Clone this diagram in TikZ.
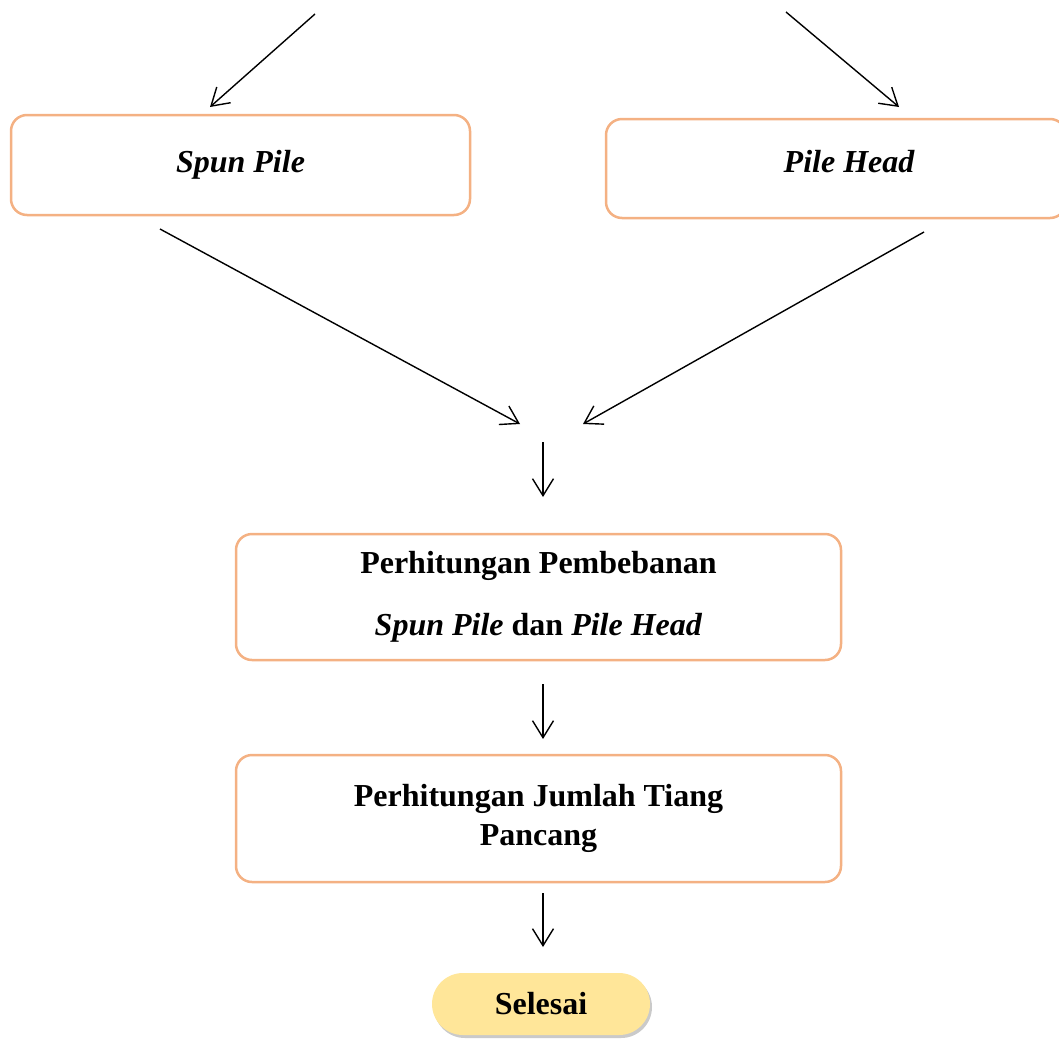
\documentclass[tikz,border=0pt]{standalone}
\usepackage{fontspec}
\setmainfont{Liberation Serif}
\usetikzlibrary{arrows.meta,shadows}
\definecolor{boxor}{HTML}{F4B183}
\definecolor{endfill}{HTML}{FFE699}
\begin{document}
\begin{tikzpicture}[x=1pt,y=-1pt,
  box/.style={draw=boxor,line width=2.5pt,rounded corners=16pt,fill=white,inner sep=0pt,align=center,font=\fontsize{32}{40}\selectfont\bfseries},
  arr/.style={line width=1.4pt,-{Straight Barb[length=17pt,width=21pt,line width=1.4pt]}}]
\useasboundingbox (0,0) rectangle (1059,1039);
\node[box,minimum width=459pt,minimum height=100pt] (spun) at (240.5,165) {\itshape Spun Pile};
\node[box,minimum width=460pt,minimum height=99pt] (head) at (836,168.5) {};
\node[font=\fontsize{32}{40}\selectfont\bfseries\itshape] (headtxt) at (849,162) {Pile Head};
\node[box,minimum width=605pt,minimum height=126pt,font=\fontsize{32}{62}\selectfont\bfseries] (beban) at (538.5,597) {Perhitungan Pembebanan\\\textit{Spun Pile} dan \textit{Pile Head}};
\node[box,minimum width=605pt,minimum height=127pt,font=\fontsize{32}{39}\selectfont\bfseries] (jumlah) at (538.5,818.5) {Perhitungan Jumlah Tiang\\Pancang};
\node[fill=endfill,rounded corners=31pt,minimum width=218pt,minimum height=62pt,inner sep=0pt,
  drop shadow={shadow xshift=2pt,shadow yshift=-3pt,opacity=0.35,fill=black!60},
  font=\fontsize{32}{40}\selectfont\bfseries] (selesai) at (541,1004) {Selesai};
\coordinate (a1s) at (315,14);
\coordinate (a1e) at (210,107);
\coordinate (a2s) at (786,12);
\coordinate (a2e) at (899,107);
\coordinate (a3s) at (160,229);
\coordinate (a3e) at (520,424);
\coordinate (a4s) at (924,232);
\coordinate (a4e) at (583,424);
\coordinate (a5s) at (543,442);
\coordinate (a5e) at (543,497);
\coordinate (a6s) at (543,684);
\coordinate (a6e) at (543,739);
\coordinate (a7s) at (543,893);
\coordinate (a7e) at (543,947);
\draw[arr] (a1s) -- (a1e);
\draw[arr] (a2s) -- (a2e);
\draw[arr] (a3s) -- (a3e);
\draw[arr] (a4s) -- (a4e);
\draw[arr] (a5s) -- (a5e);
\draw[arr] (a6s) -- (a6e);
\draw[arr] (a7s) -- (a7e);
\end{tikzpicture}
\end{document}
